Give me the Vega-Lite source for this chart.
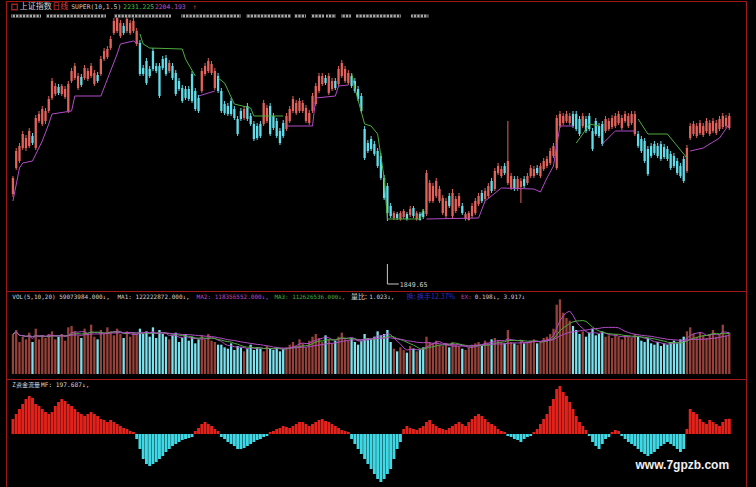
{
"$schema":"https://vega.github.io/schema/vega-lite/v6.json",
"background":"#000000",
"padding":{"left":5,"top":0,"right":11,"bottom":0},
"spacing":0,
"bounds":"flush",
"config":{"view":{"stroke":"#a01818","strokeWidth":1},"concat":{"spacing":0}},
"datasets":{
"k":[
{"i":0,"o":1931,"h":1985,"l":1922,"c":1979,"v":150,"m":195},
{"i":1,"o":2009,"h":2069,"l":2003,"c":2060,"v":165,"m":260},
{"i":2,"o":2030,"h":2084,"l":2024,"c":2075,"v":120,"m":325},
{"i":3,"o":2069,"h":2120,"l":2063,"c":2111,"v":140,"m":390},
{"i":4,"o":2069,"h":2108,"l":2060,"c":2099,"v":130,"m":455},
{"i":5,"o":2075,"h":2129,"l":2069,"c":2120,"v":155,"m":494},
{"i":6,"o":2105,"h":2114,"l":2078,"c":2084,"v":120,"m":468},
{"i":7,"o":2069,"h":2168,"l":2063,"c":2159,"v":170,"m":390},
{"i":8,"o":2150,"h":2180,"l":2144,"c":2171,"v":130,"m":364},
{"i":9,"o":2141,"h":2195,"l":2135,"c":2186,"v":145,"m":325},
{"i":10,"o":2150,"h":2189,"l":2141,"c":2180,"v":135,"m":286},
{"i":11,"o":2180,"h":2225,"l":2174,"c":2216,"v":150,"m":260},
{"i":12,"o":2219,"h":2279,"l":2213,"c":2270,"v":160,"m":286},
{"i":13,"o":2231,"h":2264,"l":2225,"c":2255,"v":130,"m":364},
{"i":14,"o":2252,"h":2261,"l":2228,"c":2234,"v":140,"m":416},
{"i":15,"o":2231,"h":2261,"l":2225,"c":2255,"v":150,"m":455},
{"i":16,"o":2222,"h":2255,"l":2216,"c":2246,"v":125,"m":429},
{"i":17,"o":2180,"h":2270,"l":2174,"c":2261,"v":175,"m":390},
{"i":18,"o":2270,"h":2309,"l":2264,"c":2300,"v":180,"m":364},
{"i":19,"o":2279,"h":2324,"l":2273,"c":2315,"v":160,"m":325},
{"i":20,"o":2249,"h":2294,"l":2243,"c":2285,"v":145,"m":286},
{"i":21,"o":2282,"h":2291,"l":2252,"c":2258,"v":135,"m":260},
{"i":22,"o":2279,"h":2318,"l":2273,"c":2309,"v":170,"m":234},
{"i":23,"o":2276,"h":2309,"l":2270,"c":2300,"v":150,"m":260},
{"i":24,"o":2285,"h":2324,"l":2279,"c":2315,"v":185,"m":286},
{"i":25,"o":2261,"h":2303,"l":2255,"c":2294,"v":140,"m":260},
{"i":26,"o":2288,"h":2297,"l":2264,"c":2270,"v":130,"m":234},
{"i":27,"o":2291,"h":2345,"l":2285,"c":2336,"v":165,"m":195},
{"i":28,"o":2336,"h":2369,"l":2330,"c":2360,"v":150,"m":182},
{"i":29,"o":2342,"h":2375,"l":2336,"c":2366,"v":175,"m":156},
{"i":30,"o":2369,"h":2405,"l":2363,"c":2396,"v":160,"m":182},
{"i":31,"o":2414,"h":2459,"l":2408,"c":2450,"v":145,"m":156},
{"i":32,"o":2420,"h":2465,"l":2414,"c":2459,"v":170,"m":130},
{"i":33,"o":2405,"h":2453,"l":2399,"c":2444,"v":150,"m":104},
{"i":34,"o":2435,"h":2444,"l":2408,"c":2414,"v":135,"m":78},
{"i":35,"o":2420,"h":2462,"l":2414,"c":2456,"v":160,"m":65},
{"i":36,"o":2414,"h":2453,"l":2408,"c":2444,"v":140,"m":39},
{"i":37,"o":2420,"h":2459,"l":2414,"c":2450,"v":155,"m":26},
{"i":38,"o":2381,"h":2429,"l":2375,"c":2420,"v":150,"m":-65},
{"i":39,"o":2384,"h":2393,"l":2285,"c":2291,"v":170,"m":-195},
{"i":40,"o":2309,"h":2318,"l":2285,"c":2291,"v":150,"m":-325},
{"i":41,"o":2330,"h":2339,"l":2258,"c":2264,"v":160,"m":-390},
{"i":42,"o":2306,"h":2315,"l":2279,"c":2285,"v":140,"m":-416},
{"i":43,"o":2360,"h":2369,"l":2300,"c":2306,"v":175,"m":-390},
{"i":44,"o":2315,"h":2324,"l":2294,"c":2300,"v":135,"m":-364},
{"i":45,"o":2315,"h":2324,"l":2219,"c":2225,"v":165,"m":-325},
{"i":46,"o":2336,"h":2345,"l":2303,"c":2309,"v":150,"m":-286},
{"i":47,"o":2339,"h":2348,"l":2285,"c":2291,"v":140,"m":-234},
{"i":48,"o":2300,"h":2333,"l":2294,"c":2324,"v":130,"m":-195},
{"i":49,"o":2315,"h":2324,"l":2273,"c":2279,"v":145,"m":-156},
{"i":50,"o":2294,"h":2303,"l":2225,"c":2231,"v":155,"m":-130},
{"i":51,"o":2270,"h":2279,"l":2240,"c":2246,"v":120,"m":-104},
{"i":52,"o":2249,"h":2258,"l":2204,"c":2210,"v":135,"m":-78},
{"i":53,"o":2246,"h":2255,"l":2213,"c":2219,"v":150,"m":-65},
{"i":54,"o":2246,"h":2255,"l":2210,"c":2216,"v":125,"m":-52},
{"i":55,"o":2291,"h":2300,"l":2204,"c":2210,"v":140,"m":-39},
{"i":56,"o":2240,"h":2249,"l":2180,"c":2186,"v":115,"m":39},
{"i":57,"o":2219,"h":2228,"l":2174,"c":2180,"v":130,"m":78},
{"i":58,"o":2240,"h":2309,"l":2234,"c":2300,"v":145,"m":130},
{"i":59,"o":2291,"h":2324,"l":2285,"c":2315,"v":130,"m":156},
{"i":60,"o":2300,"h":2339,"l":2294,"c":2330,"v":150,"m":130},
{"i":61,"o":2294,"h":2330,"l":2288,"c":2321,"v":125,"m":104},
{"i":62,"o":2249,"h":2309,"l":2243,"c":2300,"v":120,"m":65},
{"i":63,"o":2285,"h":2294,"l":2234,"c":2240,"v":110,"m":39},
{"i":64,"o":2240,"h":2249,"l":2174,"c":2180,"v":110,"m":-39},
{"i":65,"o":2201,"h":2210,"l":2168,"c":2174,"v":100,"m":-65},
{"i":66,"o":2195,"h":2204,"l":2165,"c":2171,"v":95,"m":-104},
{"i":67,"o":2210,"h":2219,"l":2165,"c":2171,"v":115,"m":-130},
{"i":68,"o":2186,"h":2195,"l":2153,"c":2159,"v":90,"m":-156},
{"i":69,"o":2156,"h":2165,"l":2105,"c":2111,"v":105,"m":-195},
{"i":70,"o":2180,"h":2189,"l":2150,"c":2156,"v":100,"m":-195},
{"i":71,"o":2159,"h":2195,"l":2153,"c":2186,"v":85,"m":-182},
{"i":72,"o":2195,"h":2204,"l":2150,"c":2156,"v":95,"m":-156},
{"i":73,"o":2165,"h":2174,"l":2135,"c":2141,"v":110,"m":-130},
{"i":74,"o":2141,"h":2150,"l":2090,"c":2096,"v":90,"m":-104},
{"i":75,"o":2135,"h":2144,"l":2093,"c":2099,"v":100,"m":-78},
{"i":76,"o":2141,"h":2150,"l":2099,"c":2105,"v":95,"m":-65},
{"i":77,"o":2141,"h":2213,"l":2135,"c":2204,"v":85,"m":-39},
{"i":78,"o":2150,"h":2198,"l":2144,"c":2189,"v":105,"m":-26},
{"i":79,"o":2195,"h":2204,"l":2105,"c":2111,"v":95,"m":26},
{"i":80,"o":2165,"h":2174,"l":2123,"c":2129,"v":90,"m":39},
{"i":81,"o":2150,"h":2159,"l":2099,"c":2105,"v":100,"m":65},
{"i":82,"o":2120,"h":2129,"l":2078,"c":2084,"v":85,"m":78},
{"i":83,"o":2144,"h":2153,"l":2099,"c":2105,"v":95,"m":104},
{"i":84,"o":2126,"h":2174,"l":2120,"c":2165,"v":100,"m":91},
{"i":85,"o":2150,"h":2195,"l":2144,"c":2186,"v":110,"m":78},
{"i":86,"o":2180,"h":2225,"l":2174,"c":2216,"v":120,"m":104},
{"i":87,"o":2174,"h":2213,"l":2168,"c":2204,"v":105,"m":130},
{"i":88,"o":2180,"h":2219,"l":2174,"c":2210,"v":130,"m":156},
{"i":89,"o":2180,"h":2213,"l":2174,"c":2204,"v":115,"m":156},
{"i":90,"o":2150,"h":2198,"l":2144,"c":2189,"v":100,"m":130},
{"i":91,"o":2144,"h":2183,"l":2138,"c":2174,"v":125,"m":104},
{"i":92,"o":2180,"h":2234,"l":2174,"c":2225,"v":140,"m":130},
{"i":93,"o":2201,"h":2264,"l":2195,"c":2255,"v":150,"m":156},
{"i":94,"o":2240,"h":2294,"l":2234,"c":2285,"v":135,"m":182},
{"i":95,"o":2261,"h":2294,"l":2255,"c":2285,"v":120,"m":195},
{"i":96,"o":2279,"h":2288,"l":2258,"c":2264,"v":145,"m":169},
{"i":97,"o":2234,"h":2294,"l":2228,"c":2285,"v":130,"m":156},
{"i":98,"o":2246,"h":2279,"l":2240,"c":2270,"v":115,"m":130},
{"i":99,"o":2270,"h":2279,"l":2243,"c":2249,"v":125,"m":104},
{"i":100,"o":2261,"h":2315,"l":2255,"c":2306,"v":140,"m":78},
{"i":101,"o":2285,"h":2333,"l":2279,"c":2324,"v":155,"m":52},
{"i":102,"o":2270,"h":2315,"l":2264,"c":2306,"v":130,"m":39},
{"i":103,"o":2264,"h":2303,"l":2258,"c":2294,"v":125,"m":26},
{"i":104,"o":2285,"h":2294,"l":2249,"c":2255,"v":135,"m":-65},
{"i":105,"o":2270,"h":2279,"l":2234,"c":2240,"v":120,"m":-130},
{"i":106,"o":2246,"h":2255,"l":2210,"c":2216,"v":110,"m":-195},
{"i":107,"o":2225,"h":2234,"l":2174,"c":2180,"v":125,"m":-260},
{"i":108,"o":2126,"h":2135,"l":2033,"c":2039,"v":150,"m":-325},
{"i":109,"o":2084,"h":2093,"l":2054,"c":2060,"v":135,"m":-390},
{"i":110,"o":2096,"h":2105,"l":2060,"c":2066,"v":130,"m":-455},
{"i":111,"o":2081,"h":2090,"l":2045,"c":2051,"v":140,"m":-520},
{"i":112,"o":2060,"h":2069,"l":2009,"c":2015,"v":160,"m":-585},
{"i":113,"o":2045,"h":2054,"l":1973,"c":1979,"v":145,"m":-624},
{"i":114,"o":1979,"h":1988,"l":1913,"c":1919,"v":150,"m":-585},
{"i":115,"o":1955,"h":1964,"l":1850,"c":1874,"v":165,"m":-520},
{"i":116,"o":1895,"h":1904,"l":1859,"c":1865,"v":120,"m":-455},
{"i":117,"o":1859,"h":1880,"l":1853,"c":1874,"v":95,"m":-325},
{"i":118,"o":1871,"h":1877,"l":1853,"c":1859,"v":85,"m":-195},
{"i":119,"o":1856,"h":1880,"l":1851,"c":1874,"v":100,"m":-104},
{"i":120,"o":1862,"h":1886,"l":1856,"c":1880,"v":90,"m":65},
{"i":121,"o":1871,"h":1877,"l":1851,"c":1856,"v":80,"m":104},
{"i":122,"o":1868,"h":1895,"l":1862,"c":1886,"v":105,"m":78},
{"i":123,"o":1889,"h":1895,"l":1859,"c":1865,"v":95,"m":65},
{"i":124,"o":1856,"h":1880,"l":1851,"c":1874,"v":85,"m":52},
{"i":125,"o":1871,"h":1877,"l":1851,"c":1853,"v":90,"m":78},
{"i":126,"o":1880,"h":1886,"l":1856,"c":1862,"v":100,"m":104},
{"i":127,"o":1871,"h":2003,"l":1865,"c":1994,"v":140,"m":156},
{"i":128,"o":1910,"h":1973,"l":1904,"c":1964,"v":120,"m":182},
{"i":129,"o":1910,"h":1964,"l":1904,"c":1955,"v":115,"m":130},
{"i":130,"o":1925,"h":1979,"l":1919,"c":1970,"v":125,"m":104},
{"i":131,"o":1910,"h":1955,"l":1904,"c":1946,"v":110,"m":78},
{"i":132,"o":1874,"h":1928,"l":1868,"c":1919,"v":105,"m":65},
{"i":133,"o":1865,"h":1919,"l":1859,"c":1910,"v":115,"m":52},
{"i":134,"o":1925,"h":1934,"l":1889,"c":1895,"v":100,"m":78},
{"i":135,"o":1865,"h":1946,"l":1856,"c":1934,"v":120,"m":104},
{"i":136,"o":1880,"h":1925,"l":1874,"c":1916,"v":110,"m":130},
{"i":137,"o":1895,"h":1934,"l":1889,"c":1925,"v":105,"m":156},
{"i":138,"o":1895,"h":1904,"l":1868,"c":1874,"v":95,"m":130},
{"i":139,"o":1856,"h":1877,"l":1851,"c":1871,"v":90,"m":104},
{"i":140,"o":1853,"h":1880,"l":1851,"c":1874,"v":100,"m":156},
{"i":141,"o":1865,"h":1904,"l":1859,"c":1895,"v":110,"m":195},
{"i":142,"o":1874,"h":1919,"l":1868,"c":1910,"v":115,"m":234},
{"i":143,"o":1901,"h":1934,"l":1895,"c":1925,"v":120,"m":260},
{"i":144,"o":1934,"h":1943,"l":1904,"c":1910,"v":105,"m":234},
{"i":145,"o":1916,"h":1949,"l":1910,"c":1940,"v":125,"m":195},
{"i":146,"o":1925,"h":1964,"l":1919,"c":1955,"v":115,"m":156},
{"i":147,"o":1970,"h":1979,"l":1934,"c":1940,"v":130,"m":130},
{"i":148,"o":1946,"h":2009,"l":1940,"c":2000,"v":135,"m":104},
{"i":149,"o":1994,"h":2024,"l":1988,"c":2015,"v":125,"m":65},
{"i":150,"o":1985,"h":2015,"l":1979,"c":2006,"v":120,"m":39},
{"i":151,"o":2015,"h":2024,"l":1988,"c":1994,"v":115,"m":26},
{"i":152,"o":1964,"h":2150,"l":1958,"c":2030,"v":165,"m":-26},
{"i":153,"o":1949,"h":1994,"l":1943,"c":1985,"v":120,"m":-39},
{"i":154,"o":1976,"h":1985,"l":1940,"c":1946,"v":115,"m":-65},
{"i":155,"o":1946,"h":1985,"l":1940,"c":1976,"v":110,"m":-78},
{"i":156,"o":1952,"h":1979,"l":1904,"c":1970,"v":125,"m":-104},
{"i":157,"o":1976,"h":1985,"l":1949,"c":1955,"v":115,"m":-65},
{"i":158,"o":1964,"h":1994,"l":1958,"c":1985,"v":120,"m":-39},
{"i":159,"o":1985,"h":2018,"l":1979,"c":2009,"v":125,"m":-26},
{"i":160,"o":1985,"h":2015,"l":1979,"c":2006,"v":130,"m":26},
{"i":161,"o":2009,"h":2018,"l":1988,"c":1994,"v":115,"m":65},
{"i":162,"o":1985,"h":2024,"l":1979,"c":2015,"v":120,"m":130},
{"i":163,"o":2006,"h":2039,"l":2000,"c":2030,"v":135,"m":195},
{"i":164,"o":2015,"h":2045,"l":2009,"c":2036,"v":140,"m":260},
{"i":165,"o":2024,"h":2069,"l":2018,"c":2060,"v":150,"m":364},
{"i":166,"o":2045,"h":2084,"l":2039,"c":2075,"v":170,"m":455},
{"i":167,"o":2009,"h":2168,"l":2003,"c":2159,"v":260,"m":585},
{"i":168,"o":2135,"h":2180,"l":2129,"c":2171,"v":280,"m":624},
{"i":169,"o":2144,"h":2174,"l":2138,"c":2165,"v":230,"m":546},
{"i":170,"o":2150,"h":2180,"l":2144,"c":2171,"v":210,"m":494},
{"i":171,"o":2144,"h":2174,"l":2138,"c":2165,"v":200,"m":416},
{"i":172,"o":2171,"h":2180,"l":2129,"c":2135,"v":180,"m":325},
{"i":173,"o":2171,"h":2180,"l":2120,"c":2126,"v":165,"m":234},
{"i":174,"o":2156,"h":2165,"l":2105,"c":2111,"v":150,"m":156},
{"i":175,"o":2135,"h":2174,"l":2129,"c":2165,"v":160,"m":104},
{"i":176,"o":2156,"h":2165,"l":2114,"c":2120,"v":140,"m":52},
{"i":177,"o":2165,"h":2174,"l":2120,"c":2126,"v":155,"m":-26},
{"i":178,"o":2120,"h":2129,"l":2060,"c":2066,"v":170,"m":-104},
{"i":179,"o":2150,"h":2159,"l":2105,"c":2111,"v":145,"m":-156},
{"i":180,"o":2135,"h":2144,"l":2099,"c":2105,"v":150,"m":-195},
{"i":181,"o":2141,"h":2150,"l":2075,"c":2081,"v":160,"m":-130},
{"i":182,"o":2120,"h":2165,"l":2114,"c":2156,"v":140,"m":-65},
{"i":183,"o":2126,"h":2159,"l":2120,"c":2150,"v":145,"m":-39},
{"i":184,"o":2132,"h":2168,"l":2126,"c":2159,"v":135,"m":26},
{"i":185,"o":2135,"h":2174,"l":2129,"c":2165,"v":150,"m":52},
{"i":186,"o":2144,"h":2180,"l":2138,"c":2171,"v":140,"m":39},
{"i":187,"o":2129,"h":2168,"l":2123,"c":2159,"v":130,"m":-26},
{"i":188,"o":2150,"h":2180,"l":2144,"c":2171,"v":145,"m":-65},
{"i":189,"o":2135,"h":2174,"l":2129,"c":2165,"v":140,"m":-104},
{"i":190,"o":2144,"h":2180,"l":2138,"c":2171,"v":135,"m":-130},
{"i":191,"o":2111,"h":2180,"l":2105,"c":2171,"v":150,"m":-156},
{"i":192,"o":2111,"h":2120,"l":2069,"c":2075,"v":140,"m":-195},
{"i":193,"o":2096,"h":2105,"l":2054,"c":2060,"v":125,"m":-234},
{"i":194,"o":2090,"h":2099,"l":2024,"c":2030,"v":120,"m":-260},
{"i":195,"o":2066,"h":2075,"l":1985,"c":1991,"v":135,"m":-286},
{"i":196,"o":2075,"h":2084,"l":2039,"c":2045,"v":115,"m":-260},
{"i":197,"o":2081,"h":2090,"l":2048,"c":2054,"v":110,"m":-234},
{"i":198,"o":2075,"h":2084,"l":2039,"c":2045,"v":120,"m":-195},
{"i":199,"o":2081,"h":2090,"l":2030,"c":2036,"v":105,"m":-156},
{"i":200,"o":2072,"h":2081,"l":2036,"c":2042,"v":115,"m":-130},
{"i":201,"o":2066,"h":2075,"l":2030,"c":2036,"v":110,"m":-104},
{"i":202,"o":2051,"h":2060,"l":2003,"c":2009,"v":120,"m":-130},
{"i":203,"o":2045,"h":2054,"l":2009,"c":2015,"v":125,"m":-156},
{"i":204,"o":2030,"h":2039,"l":1988,"c":1994,"v":115,"m":-195},
{"i":205,"o":2015,"h":2024,"l":1979,"c":1985,"v":130,"m":-234},
{"i":206,"o":2036,"h":2045,"l":1964,"c":1970,"v":140,"m":-195},
{"i":207,"o":2000,"h":2078,"l":1994,"c":2069,"v":160,"m":65},
{"i":208,"o":2099,"h":2144,"l":2093,"c":2135,"v":175,"m":325},
{"i":209,"o":2111,"h":2150,"l":2105,"c":2141,"v":150,"m":286},
{"i":210,"o":2105,"h":2144,"l":2099,"c":2135,"v":140,"m":260},
{"i":211,"o":2114,"h":2153,"l":2108,"c":2144,"v":155,"m":195},
{"i":212,"o":2108,"h":2144,"l":2102,"c":2135,"v":145,"m":156},
{"i":213,"o":2120,"h":2159,"l":2114,"c":2150,"v":135,"m":130},
{"i":214,"o":2111,"h":2153,"l":2105,"c":2144,"v":150,"m":182},
{"i":215,"o":2120,"h":2159,"l":2114,"c":2150,"v":165,"m":156},
{"i":216,"o":2114,"h":2153,"l":2108,"c":2144,"v":140,"m":130},
{"i":217,"o":2126,"h":2165,"l":2120,"c":2156,"v":150,"m":104},
{"i":218,"o":2132,"h":2174,"l":2126,"c":2165,"v":185,"m":156},
{"i":219,"o":2135,"h":2168,"l":2129,"c":2159,"v":145,"m":195},
{"i":220,"o":2129,"h":2174,"l":2123,"c":2165,"v":155,"m":198}
],
"sup":[
{"i":0,"s":1910,"g":"A","t":"up"},{"i":2,"s":2009,"g":"A","t":"up"},{"i":3,"s":2024,"g":"A","t":"up"},{"i":6,"s":2030,"g":"A","t":"up"},{"i":9,"s":2090,"g":"A","t":"up"},{"i":11,"s":2141,"g":"A","t":"up"},{"i":12,"s":2171,"g":"A","t":"up"},{"i":18,"s":2180,"g":"A","t":"up"},{"i":19,"s":2225,"g":"A","t":"up"},{"i":27,"s":2225,"g":"A","t":"up"},{"i":32,"s":2351,"g":"A","t":"up"},{"i":33,"s":2381,"g":"A","t":"up"},{"i":37,"s":2390,"g":"A","t":"up"},{"i":38,"s":2384,"g":"A","t":"up"},
{"i":39,"s":2411,"g":"B","t":"dn"},{"i":40,"s":2381,"g":"B","t":"dn"},{"i":42,"s":2369,"g":"B","t":"dn"},{"i":52,"s":2366,"g":"B","t":"dn"},{"i":53,"s":2336,"g":"B","t":"dn"},{"i":56,"s":2285,"g":"B","t":"dn"},
{"i":57,"s":2225,"g":"C","t":"up"},{"i":62,"s":2240,"g":"C","t":"up"},
{"i":63,"s":2279,"g":"D","t":"dn"},{"i":65,"s":2264,"g":"D","t":"dn"},{"i":68,"s":2201,"g":"D","t":"dn"},{"i":73,"s":2189,"g":"D","t":"dn"},{"i":74,"s":2165,"g":"D","t":"dn"},{"i":83,"s":2165,"g":"D","t":"dn"},
{"i":84,"s":2135,"g":"E","t":"up"},{"i":92,"s":2135,"g":"E","t":"up"},{"i":93,"s":2219,"g":"E","t":"up"},{"i":99,"s":2225,"g":"E","t":"up"},{"i":100,"s":2255,"g":"E","t":"up"},{"i":103,"s":2258,"g":"E","t":"up"},
{"i":104,"s":2294,"g":"F","t":"dn"},{"i":105,"s":2249,"g":"F","t":"dn"},{"i":108,"s":2141,"g":"F","t":"dn"},{"i":110,"s":2135,"g":"F","t":"dn"},{"i":112,"s":2111,"g":"F","t":"dn"},{"i":114,"s":1979,"g":"F","t":"dn"},{"i":115,"s":1856,"g":"F","t":"dn"},{"i":125,"s":1856,"g":"F","t":"dn"},{"i":126,"s":1886,"g":"F","t":"dn"},
{"i":127,"s":1856,"g":"G","t":"up"},{"i":143,"s":1859,"g":"G","t":"up"},{"i":145,"s":1910,"g":"G","t":"up"},{"i":150,"s":1949,"g":"G","t":"up"},{"i":160,"s":1946,"g":"G","t":"up"},{"i":162,"s":1937,"g":"G","t":"up"},{"i":164,"s":1979,"g":"G","t":"up"},{"i":166,"s":2015,"g":"G","t":"up"},{"i":168,"s":2135,"g":"G","t":"up"},{"i":172,"s":2135,"g":"G","t":"up"},
{"i":173,"s":2084,"g":"H","t":"dn"},{"i":175,"s":2111,"g":"H","t":"dn"},{"i":177,"s":2141,"g":"H","t":"dn"},{"i":180,"s":2135,"g":"H","t":"dn"},
{"i":181,"s":2081,"g":"I","t":"up"},{"i":185,"s":2120,"g":"I","t":"up"},{"i":191,"s":2120,"g":"I","t":"up"},
{"i":192,"s":2156,"g":"J","t":"dn"},{"i":195,"s":2111,"g":"J","t":"dn"},{"i":201,"s":2111,"g":"J","t":"dn"},{"i":207,"s":2039,"g":"J","t":"dn"},
{"i":208,"s":2060,"g":"K","t":"up"},{"i":212,"s":2069,"g":"K","t":"up"},{"i":217,"s":2099,"g":"K","t":"up"},{"i":220,"s":2141,"g":"K","t":"up"}
]
},
"vconcat":[
{
"width":740,"height":290,
"layer":[
{"data":{"name":"k"},"mark":{"type":"rule","strokeWidth":1},
 "encoding":{"x":{"field":"i","type":"quantitative","scale":{"domain":[-0.6,223.6],"nice":false,"zero":false},"axis":null},
 "y":{"field":"l","type":"quantitative","scale":{"domain":[1640,2510],"nice":false,"zero":false},"axis":null},"y2":{"field":"h"},
 "color":{"condition":{"test":"datum.c >= datum.o","value":"#e2625c"},"value":"#62dce8"}}},
{"data":{"name":"k"},"mark":{"type":"bar","width":2.3},
 "encoding":{"x":{"field":"i","type":"quantitative","scale":{"domain":[-0.6,223.6],"nice":false,"zero":false},"axis":null},
 "y":{"field":"o","type":"quantitative","scale":{"domain":[1640,2510],"nice":false,"zero":false},"axis":null},"y2":{"field":"c"},
 "color":{"condition":{"test":"datum.c >= datum.o","value":"#e2625c"},"value":"#62dce8"}}},
{"data":{"name":"sup"},"mark":{"type":"line","strokeWidth":1},
 "encoding":{"x":{"field":"i","type":"quantitative","scale":{"domain":[-0.6,223.6],"nice":false,"zero":false},"axis":null},
 "y":{"field":"s","type":"quantitative","scale":{"domain":[1640,2510],"nice":false,"zero":false},"axis":null},
 "detail":{"field":"g"},
 "color":{"field":"t","type":"nominal","scale":{"domain":["up","dn"],"range":["#b24cc8","#4eae3e"]},"legend":null}}},
{"data":{"values":[{}]},"mark":{"type":"rule","color":"#a8a8a8","strokeWidth":3,"strokeDash":[30,5,60,8,57,10,60,5,45,3,12,5,13,2,10,5,10,5,45,10,23,400]},
 "encoding":{"x":{"datum":-0.6,"axis":null},"x2":{"datum":127.6},"y":{"datum":2465,"axis":null}}},
{"data":{"values":[{}]},"mark":{"type":"rule","color":"#000000","strokeWidth":3,"strokeDash":[1,2.4]},
 "encoding":{"x":{"datum":-0.4,"axis":null},"x2":{"datum":127.6},"y":{"datum":2465,"axis":null}}},
{"data":{"values":[{}]},"mark":{"type":"point","shape":"square","size":30,"filled":false,"color":"#e03030","strokeWidth":1.3},
 "encoding":{"x":{"datum":0.5,"axis":null},"y":{"datum":2492,"axis":null}}},
{"data":{"values":[{}]},"mark":{"type":"text","text":"上证指数","align":"left","baseline":"middle","font":"Noto Sans CJK SC","fontSize":8,"color":"#d0d0d0"},
 "encoding":{"x":{"datum":2.1,"axis":null},"y":{"datum":2492,"axis":null}}},
{"data":{"values":[{}]},"mark":{"type":"text","text":"日线","align":"left","baseline":"middle","font":"Noto Sans CJK SC","fontSize":8,"color":"#e03c3c"},
 "encoding":{"x":{"datum":12.1,"axis":null},"y":{"datum":2492,"axis":null}}},
{"data":{"values":[{}]},"mark":{"type":"text","text":"SUPER(10,1.5)","align":"left","baseline":"middle","font":"DejaVu Sans Mono","fontSize":6.4,"color":"#c8c8c8"},
 "encoding":{"x":{"datum":17.9,"axis":null},"y":{"datum":2492,"axis":null}}},
{"data":{"values":[{}]},"mark":{"type":"text","text":"2231.225","align":"left","baseline":"middle","font":"DejaVu Sans Mono","fontSize":6.4,"color":"#44c040"},
 "encoding":{"x":{"datum":33.9,"axis":null},"y":{"datum":2492,"axis":null}}},
{"data":{"values":[{}]},"mark":{"type":"text","text":"2204.193","align":"left","baseline":"middle","font":"DejaVu Sans Mono","fontSize":6.4,"color":"#c050d0"},
 "encoding":{"x":{"datum":43.6,"axis":null},"y":{"datum":2492,"axis":null}}},
{"data":{"values":[{}]},"mark":{"type":"text","text":"↑","align":"left","baseline":"middle","font":"DejaVu Sans Mono","fontSize":6.4,"color":"#e03c3c"},
 "encoding":{"x":{"datum":55.2,"axis":null},"y":{"datum":2492,"axis":null}}},
{"data":{"values":[{}]},"mark":{"type":"rule","color":"#c8c8c8","strokeWidth":1},
 "encoding":{"x":{"datum":115,"axis":null},"y":{"datum":1721,"axis":null},"y2":{"datum":1661}}},
{"data":{"values":[{}]},"mark":{"type":"rule","color":"#c8c8c8","strokeWidth":1},
 "encoding":{"x":{"datum":115,"axis":null},"x2":{"datum":118.5},"y":{"datum":1661,"axis":null}}},
{"data":{"values":[{}]},"mark":{"type":"text","text":"1849.65","align":"left","baseline":"middle","font":"DejaVu Sans Mono","fontSize":6.6,"color":"#d0d0d0"},
 "encoding":{"x":{"datum":118.8,"axis":null},"y":{"datum":1658,"axis":null}}}
]
},
{
"width":740,"height":88,
"layer":[
{"data":{"name":"k"},"mark":{"type":"bar","width":2.3},
 "encoding":{"x":{"field":"i","type":"quantitative","scale":{"domain":[-0.6,223.6],"nice":false,"zero":false},"axis":null},
 "y":{"field":"v","type":"quantitative","scale":{"domain":[-18.75,311.25],"nice":false,"zero":false},"axis":null},"y2":{"datum":0},
 "color":{"condition":{"test":"datum.c >= datum.o","value":"#96423a"},"value":"#7ee2ee"}}},
{"data":{"name":"k"},
 "transform":[
  {"window":[{"op":"mean","field":"v","as":"ma5"}],"sort":[{"field":"i"}],"frame":[-4,0]},
  {"window":[{"op":"mean","field":"v","as":"ma10"}],"sort":[{"field":"i"}],"frame":[-9,0]},
  {"window":[{"op":"mean","field":"v","as":"ma20"}],"sort":[{"field":"i"}],"frame":[-19,0]},
  {"fold":["ma5","ma10","ma20"],"as":["ma","mv"]}],
 "mark":{"type":"line","strokeWidth":1},
 "encoding":{"x":{"field":"i","type":"quantitative","scale":{"domain":[-0.6,223.6],"nice":false,"zero":false},"axis":null},
 "y":{"field":"mv","type":"quantitative","scale":{"domain":[-18.75,311.25],"nice":false,"zero":false},"axis":null},
 "color":{"field":"ma","type":"nominal","scale":{"domain":["ma5","ma10","ma20"],"range":["#e8e8e8","#c050c0","#40b040"]},"legend":null}}},
{"data":{"values":[{}]},"mark":{"type":"text","text":"VOL(5,10,20) 59073984.000↓,","align":"left","baseline":"middle","font":"DejaVu Sans Mono","fontSize":6,"color":"#d0d0d0"},
 "encoding":{"x":{"datum":-0.2,"axis":null},"y":{"datum":289,"axis":null}}},
{"data":{"values":[{}]},"mark":{"type":"text","text":"MA1: 122222872.000↓,","align":"left","baseline":"middle","font":"DejaVu Sans Mono","fontSize":6,"color":"#d0d0d0"},
 "encoding":{"x":{"datum":32.1,"axis":null},"y":{"datum":289,"axis":null}}},
{"data":{"values":[{}]},"mark":{"type":"text","text":"MA2: 118356552.000↓,","align":"left","baseline":"middle","font":"DejaVu Sans Mono","fontSize":6,"color":"#c048c0"},
 "encoding":{"x":{"datum":56.4,"axis":null},"y":{"datum":289,"axis":null}}},
{"data":{"values":[{}]},"mark":{"type":"text","text":"MA3: 112626536.000↓,","align":"left","baseline":"middle","font":"DejaVu Sans Mono","fontSize":5.9,"color":"#40b040"},
 "encoding":{"x":{"datum":80.3,"axis":null},"y":{"datum":289,"axis":null}}},
{"data":{"values":[{}]},"mark":{"type":"text","text":"量比:","align":"left","baseline":"middle","font":"Noto Sans CJK SC","fontSize":7,"color":"#d0d0d0"},
 "encoding":{"x":{"datum":103.8,"axis":null},"y":{"datum":289,"axis":null}}},
{"data":{"values":[{}]},"mark":{"type":"text","text":"1.023↓,","align":"left","baseline":"middle","font":"DejaVu Sans Mono","fontSize":6,"color":"#d0d0d0"},
 "encoding":{"x":{"datum":109.4,"axis":null},"y":{"datum":289,"axis":null}}},
{"data":{"values":[{}]},"mark":{"type":"text","text":"换: 换手12.37%","align":"left","baseline":"middle","font":"Noto Sans CJK SC","fontSize":7,"color":"#2c2cc8"},
 "encoding":{"x":{"datum":120.9,"axis":null},"y":{"datum":289,"axis":null}}},
{"data":{"values":[{}]},"mark":{"type":"text","text":"EX:","align":"left","baseline":"middle","font":"DejaVu Sans Mono","fontSize":6,"color":"#b040c0"},
 "encoding":{"x":{"datum":137.6,"axis":null},"y":{"datum":289,"axis":null}}},
{"data":{"values":[{}]},"mark":{"type":"text","text":"0.198↓, 3.917↓","align":"left","baseline":"middle","font":"DejaVu Sans Mono","fontSize":6,"color":"#c8c8e0"},
 "encoding":{"x":{"datum":141.8,"axis":null},"y":{"datum":289,"axis":null}}}
]
},
{
"width":740,"height":109,
"layer":[
{"data":{"name":"k"},"mark":{"type":"bar","width":2.9},
 "encoding":{"x":{"field":"i","type":"quantitative","scale":{"domain":[-0.6,223.6],"nice":false,"zero":false},"axis":null},
 "y":{"field":"m","type":"quantitative","scale":{"domain":[-702,715],"nice":false,"zero":false},"axis":null},"y2":{"datum":0},
 "color":{"condition":{"test":"datum.m >= 0","value":"#e4221c"},"value":"#40d8e4"}}},
{"data":{"values":[{}]},"mark":{"type":"text","text":"Z资金流量","align":"left","baseline":"middle","font":"Noto Sans CJK SC","fontSize":6,"color":"#d8d8d8"},
 "encoding":{"x":{"datum":-0.2,"axis":null},"y":{"datum":637,"axis":null}}},
{"data":{"values":[{}]},"mark":{"type":"text","text":"MF: 197.687↓,","align":"left","baseline":"middle","font":"DejaVu Sans Mono","fontSize":6.2,"color":"#d8d8d8"},
 "encoding":{"x":{"datum":8.6,"axis":null},"y":{"datum":637,"axis":null}}},
{"data":{"values":[{}]},"mark":{"type":"text","text":"www.7gpzb.com","align":"left","baseline":"middle","font":"Liberation Sans","fontSize":12,"fontWeight":"bold","color":"#f0f0f0"},
 "encoding":{"x":{"datum":191.2,"axis":null},"y":{"datum":-403,"axis":null}}}
]
}
]
}
